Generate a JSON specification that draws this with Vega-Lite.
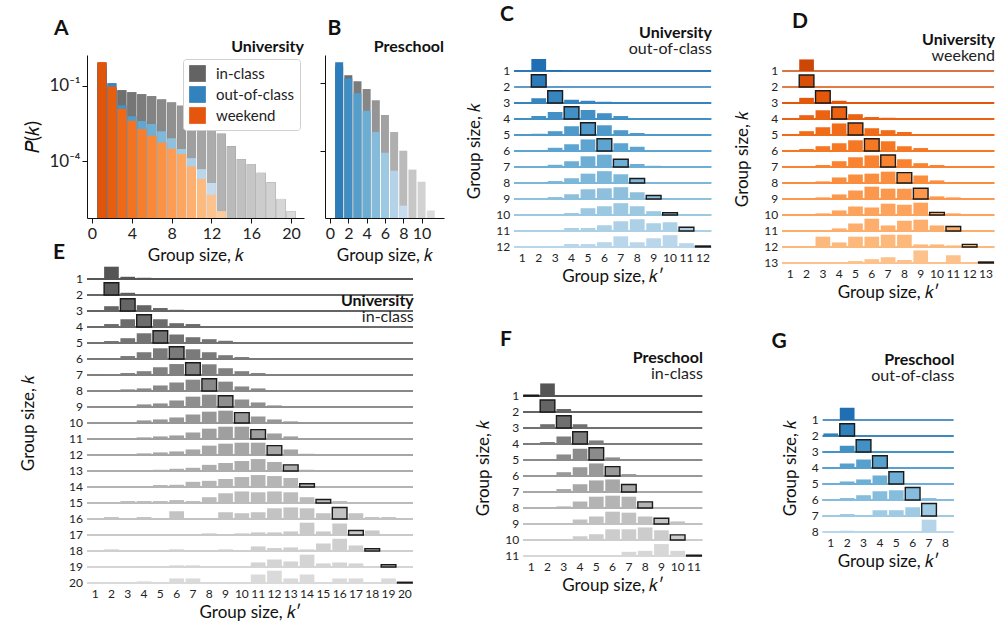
{
"$schema": "https://vega.github.io/schema/vega-lite/v6.json",
"padding": {"left": 20, "top": 4, "right": 2, "bottom": 2},
"config": {"font": "Lato", "view": {"stroke": null}, "axis": {"grid": false, "labelColor": "#222", "titleColor": "#111", "domainColor": "#111", "tickColor": "#111", "titleFontWeight": "normal"}, "title": {"color": "#111", "subtitleColor": "#222"}, "header": {"labelColor": "#222", "titleColor": "#111"}},
"datasets": {
"dsA": [
{"series":"in-class","k":1,"p":0.5},{"series":"in-class","k":2,"p":0.08},{"series":"in-class","k":3,"p":0.068},{"series":"in-class","k":4,"p":0.056},{"series":"in-class","k":5,"p":0.047},{"series":"in-class","k":6,"p":0.039},{"series":"in-class","k":7,"p":0.029},{"series":"in-class","k":8,"p":0.022},{"series":"in-class","k":9,"p":0.0162},{"series":"in-class","k":10,"p":0.0091},{"series":"in-class","k":11,"p":0.005},{"series":"in-class","k":12,"p":0.0025},{"series":"in-class","k":13,"p":0.00126},{"series":"in-class","k":14,"p":0.0004},{"series":"in-class","k":15,"p":0.000123},{"series":"in-class","k":16,"p":0.000078},{"series":"in-class","k":17,"p":0.000035},{"series":"in-class","k":18,"p":0.0000148},{"series":"in-class","k":19,"p":0.0000032},{"series":"in-class","k":20,"p":0.00000105},
{"series":"out-of-class","k":1,"p":0.8},{"series":"out-of-class","k":2,"p":0.129},{"series":"out-of-class","k":3,"p":0.017},{"series":"out-of-class","k":4,"p":0.0063},{"series":"out-of-class","k":5,"p":0.004},{"series":"out-of-class","k":6,"p":0.0031},{"series":"out-of-class","k":7,"p":0.00158},{"series":"out-of-class","k":8,"p":0.00083},{"series":"out-of-class","k":9,"p":0.00031},{"series":"out-of-class","k":10,"p":0.000135},{"series":"out-of-class","k":11,"p":0.000049},{"series":"out-of-class","k":12,"p":0.0000138},
{"series":"weekend","k":1,"p":0.87},{"series":"weekend","k":2,"p":0.095},{"series":"weekend","k":3,"p":0.0123},{"series":"weekend","k":4,"p":0.0041},{"series":"weekend","k":5,"p":0.00195},{"series":"weekend","k":6,"p":0.00105},{"series":"weekend","k":7,"p":0.00056},{"series":"weekend","k":8,"p":0.00032},{"series":"weekend","k":9,"p":0.000195},{"series":"weekend","k":10,"p":0.000063},{"series":"weekend","k":11,"p":0.00002},{"series":"weekend","k":12,"p":0.0000047},{"series":"weekend","k":13,"p":0.00000105}
],
"dsB": [
{"series":"in-class","k":1,"p":0.55},{"series":"in-class","k":2,"p":0.224},{"series":"in-class","k":3,"p":0.123},{"series":"in-class","k":4,"p":0.055},{"series":"in-class","k":5,"p":0.0178},{"series":"in-class","k":6,"p":0.004},{"series":"in-class","k":7,"p":0.00072},{"series":"in-class","k":8,"p":0.000107},{"series":"in-class","k":9,"p":0.0000158},{"series":"in-class","k":10,"p":0.0000046},{"series":"in-class","k":11,"p":0.00000025},
{"series":"out-of-class","k":1,"p":0.83},{"series":"out-of-class","k":2,"p":0.166},{"series":"out-of-class","k":3,"p":0.036},{"series":"out-of-class","k":4,"p":0.0062},{"series":"out-of-class","k":5,"p":0.00072},{"series":"out-of-class","k":6,"p":0.000087},{"series":"out-of-class","k":7,"p":0.0000141},{"series":"out-of-class","k":8,"p":0.00000041}
],
"dsC": [
{"k":1,"kp":2,"p":0.97},{"k":1,"kp":3,"p":0.08},
{"k":2,"kp":2,"p":1.0},
{"k":3,"kp":2,"p":0.39},{"k":3,"kp":3,"p":1.0},{"k":3,"kp":4,"p":0.26},{"k":3,"kp":5,"p":0.18},{"k":3,"kp":6,"p":0.1},
{"k":4,"kp":2,"p":0.24},{"k":4,"kp":3,"p":0.57},{"k":4,"kp":4,"p":1.0},{"k":4,"kp":5,"p":0.73},{"k":4,"kp":6,"p":0.47},{"k":4,"kp":7,"p":0.24},{"k":4,"kp":8,"p":0.08},
{"k":5,"kp":2,"p":0.1},{"k":5,"kp":3,"p":0.31},{"k":5,"kp":4,"p":0.71},{"k":5,"kp":5,"p":1.0},{"k":5,"kp":6,"p":0.79},{"k":5,"kp":7,"p":0.39},{"k":5,"kp":8,"p":0.16},
{"k":6,"kp":2,"p":0.08},{"k":6,"kp":3,"p":0.26},{"k":6,"kp":4,"p":0.55},{"k":6,"kp":5,"p":0.94},{"k":6,"kp":6,"p":1.0},{"k":6,"kp":7,"p":0.63},{"k":6,"kp":8,"p":0.34},{"k":6,"kp":9,"p":0.08},
{"k":7,"kp":3,"p":0.18},{"k":7,"kp":4,"p":0.47},{"k":7,"kp":5,"p":0.87},{"k":7,"kp":6,"p":1.0},{"k":7,"kp":7,"p":0.63},{"k":7,"kp":8,"p":0.24},{"k":7,"kp":9,"p":0.1},
{"k":8,"kp":3,"p":0.16},{"k":8,"kp":4,"p":0.39},{"k":8,"kp":5,"p":0.76},{"k":8,"kp":6,"p":0.96},{"k":8,"kp":7,"p":0.71},{"k":8,"kp":8,"p":0.37},{"k":8,"kp":9,"p":0.08},
{"k":9,"kp":3,"p":0.16},{"k":9,"kp":4,"p":0.39},{"k":9,"kp":5,"p":0.79},{"k":9,"kp":6,"p":0.87},{"k":9,"kp":7,"p":0.96},{"k":9,"kp":8,"p":0.55},{"k":9,"kp":9,"p":0.29},{"k":9,"kp":10,"p":0.08},
{"k":10,"kp":4,"p":0.16},{"k":10,"kp":5,"p":0.55},{"k":10,"kp":6,"p":0.71},{"k":10,"kp":7,"p":0.96},{"k":10,"kp":8,"p":0.71},{"k":10,"kp":9,"p":0.31},{"k":10,"kp":10,"p":0.18},{"k":10,"kp":11,"p":0.08},
{"k":11,"kp":4,"p":0.24},{"k":11,"kp":5,"p":0.24},{"k":11,"kp":6,"p":0.47},{"k":11,"kp":7,"p":0.79},{"k":11,"kp":8,"p":0.96},{"k":11,"kp":9,"p":0.63},{"k":11,"kp":10,"p":0.71},{"k":11,"kp":11,"p":0.31},{"k":11,"kp":12,"p":0.08},
{"k":12,"kp":2,"p":0.08},{"k":12,"kp":4,"p":0.24},{"k":12,"kp":5,"p":0.24},{"k":12,"kp":6,"p":0.39},{"k":12,"kp":7,"p":0.87},{"k":12,"kp":8,"p":0.39},{"k":12,"kp":9,"p":0.71},{"k":12,"kp":10,"p":0.96},{"k":12,"kp":11,"p":0.31},{"k":12,"kp":12,"p":0.08}
],
"dsD": [
{"k":1,"kp":2,"p":0.94},
{"k":2,"kp":2,"p":0.97},
{"k":3,"kp":2,"p":0.42},{"k":3,"kp":3,"p":1.0},{"k":3,"kp":4,"p":0.18},{"k":3,"kp":5,"p":0.08},
{"k":4,"kp":2,"p":0.31},{"k":4,"kp":3,"p":0.71},{"k":4,"kp":4,"p":0.97},{"k":4,"kp":5,"p":0.39},{"k":4,"kp":6,"p":0.16},{"k":4,"kp":7,"p":0.1},
{"k":5,"kp":2,"p":0.31},{"k":5,"kp":3,"p":0.63},{"k":5,"kp":4,"p":0.94},{"k":5,"kp":5,"p":0.97},{"k":5,"kp":6,"p":0.55},{"k":5,"kp":7,"p":0.39},{"k":5,"kp":8,"p":0.24},{"k":5,"kp":9,"p":0.08},
{"k":6,"kp":2,"p":0.16},{"k":6,"kp":3,"p":0.39},{"k":6,"kp":4,"p":0.63},{"k":6,"kp":5,"p":0.87},{"k":6,"kp":6,"p":1.0},{"k":6,"kp":7,"p":0.79},{"k":6,"kp":8,"p":0.39},{"k":6,"kp":9,"p":0.24},{"k":6,"kp":10,"p":0.08},
{"k":7,"kp":2,"p":0.08},{"k":7,"kp":3,"p":0.16},{"k":7,"kp":4,"p":0.47},{"k":7,"kp":5,"p":0.79},{"k":7,"kp":6,"p":0.94},{"k":7,"kp":7,"p":0.97},{"k":7,"kp":8,"p":0.63},{"k":7,"kp":9,"p":0.31},{"k":7,"kp":10,"p":0.16},
{"k":8,"kp":2,"p":0.06},{"k":8,"kp":3,"p":0.13},{"k":8,"kp":4,"p":0.45},{"k":8,"kp":5,"p":0.69},{"k":8,"kp":6,"p":0.76},{"k":8,"kp":7,"p":0.92},{"k":8,"kp":8,"p":0.84},{"k":8,"kp":9,"p":0.61},{"k":8,"kp":10,"p":0.21},{"k":8,"kp":11,"p":0.08},
{"k":9,"kp":2,"p":0.08},{"k":9,"kp":3,"p":0.13},{"k":9,"kp":4,"p":0.37},{"k":9,"kp":5,"p":0.69},{"k":9,"kp":6,"p":1.0},{"k":9,"kp":7,"p":0.84},{"k":9,"kp":8,"p":0.84},{"k":9,"kp":9,"p":0.87},{"k":9,"kp":10,"p":0.21},{"k":9,"kp":11,"p":0.13},
{"k":10,"kp":3,"p":0.13},{"k":10,"kp":4,"p":0.37},{"k":10,"kp":5,"p":0.69},{"k":10,"kp":6,"p":0.61},{"k":10,"kp":7,"p":0.92},{"k":10,"kp":8,"p":0.84},{"k":10,"kp":9,"p":1.0},{"k":10,"kp":10,"p":0.21},{"k":10,"kp":11,"p":0.13},
{"k":11,"kp":3,"p":0.06},{"k":11,"kp":4,"p":0.21},{"k":11,"kp":5,"p":0.61},{"k":11,"kp":6,"p":1.0},{"k":11,"kp":7,"p":0.45},{"k":11,"kp":8,"p":0.84},{"k":11,"kp":9,"p":0.92},{"k":11,"kp":10,"p":0.45},{"k":11,"kp":11,"p":0.37},{"k":11,"kp":13,"p":0.08},
{"k":12,"kp":3,"p":0.84},{"k":12,"kp":4,"p":0.37},{"k":12,"kp":5,"p":0.84},{"k":12,"kp":6,"p":0.84},{"k":12,"kp":7,"p":1.0},{"k":12,"kp":8,"p":1.0},{"k":12,"kp":9,"p":0.21},{"k":12,"kp":10,"p":0.21},{"k":12,"kp":11,"p":0.13},{"k":12,"kp":12,"p":0.21},
{"k":13,"kp":3,"p":0.08},{"k":13,"kp":5,"p":0.16},{"k":13,"kp":6,"p":0.31},{"k":13,"kp":7,"p":0.47},{"k":13,"kp":8,"p":0.24},{"k":13,"kp":9,"p":1.02},{"k":13,"kp":10,"p":0.08},{"k":13,"kp":11,"p":0.63},{"k":13,"kp":13,"p":0.08}
],
"dsE": [
{"k":1,"kp":2,"p":1.0},{"k":1,"kp":3,"p":0.18},{"k":1,"kp":4,"p":0.1},
{"k":2,"kp":2,"p":1.0},{"k":2,"kp":3,"p":0.18},
{"k":3,"kp":2,"p":0.39},{"k":3,"kp":3,"p":1.0},{"k":3,"kp":4,"p":0.47},{"k":3,"kp":5,"p":0.24},{"k":3,"kp":6,"p":0.1},{"k":3,"kp":7,"p":0.08},
{"k":4,"kp":2,"p":0.24},{"k":4,"kp":3,"p":0.63},{"k":4,"kp":4,"p":1.0},{"k":4,"kp":5,"p":0.63},{"k":4,"kp":6,"p":0.31},{"k":4,"kp":7,"p":0.24},{"k":4,"kp":8,"p":0.08},{"k":4,"kp":9,"p":0.08},
{"k":5,"kp":2,"p":0.16},{"k":5,"kp":3,"p":0.39},{"k":5,"kp":4,"p":0.79},{"k":5,"kp":5,"p":1.0},{"k":5,"kp":6,"p":0.69},{"k":5,"kp":7,"p":0.47},{"k":5,"kp":8,"p":0.31},{"k":5,"kp":9,"p":0.18},{"k":5,"kp":10,"p":0.08},
{"k":6,"kp":2,"p":0.08},{"k":6,"kp":3,"p":0.24},{"k":6,"kp":4,"p":0.55},{"k":6,"kp":5,"p":0.87},{"k":6,"kp":6,"p":1.0},{"k":6,"kp":7,"p":0.79},{"k":6,"kp":8,"p":0.55},{"k":6,"kp":9,"p":0.31},{"k":6,"kp":10,"p":0.16},{"k":6,"kp":11,"p":0.08},
{"k":7,"kp":2,"p":0.06},{"k":7,"kp":3,"p":0.16},{"k":7,"kp":4,"p":0.31},{"k":7,"kp":5,"p":0.63},{"k":7,"kp":6,"p":0.89},{"k":7,"kp":7,"p":1.0},{"k":7,"kp":8,"p":0.87},{"k":7,"kp":9,"p":0.55},{"k":7,"kp":10,"p":0.31},{"k":7,"kp":11,"p":0.16},{"k":7,"kp":12,"p":0.06},
{"k":8,"kp":2,"p":0.06},{"k":8,"kp":3,"p":0.13},{"k":8,"kp":4,"p":0.21},{"k":8,"kp":5,"p":0.45},{"k":8,"kp":6,"p":0.69},{"k":8,"kp":7,"p":0.92},{"k":8,"kp":8,"p":1.0},{"k":8,"kp":9,"p":0.76},{"k":8,"kp":10,"p":0.37},{"k":8,"kp":11,"p":0.21},{"k":8,"kp":12,"p":0.06},{"k":8,"kp":13,"p":0.06},{"k":8,"kp":14,"p":0.06},
{"k":9,"kp":4,"p":0.21},{"k":9,"kp":5,"p":0.29},{"k":9,"kp":6,"p":0.53},{"k":9,"kp":7,"p":0.84},{"k":9,"kp":8,"p":1.0},{"k":9,"kp":9,"p":0.92},{"k":9,"kp":10,"p":0.61},{"k":9,"kp":11,"p":0.37},{"k":9,"kp":12,"p":0.13},
{"k":10,"kp":4,"p":0.21},{"k":10,"kp":5,"p":0.29},{"k":10,"kp":6,"p":0.45},{"k":10,"kp":7,"p":0.69},{"k":10,"kp":8,"p":0.92},{"k":10,"kp":9,"p":1.0},{"k":10,"kp":10,"p":0.84},{"k":10,"kp":11,"p":0.53},{"k":10,"kp":12,"p":0.29},{"k":10,"kp":13,"p":0.13},
{"k":11,"kp":4,"p":0.13},{"k":11,"kp":5,"p":0.21},{"k":11,"kp":6,"p":0.29},{"k":11,"kp":7,"p":0.53},{"k":11,"kp":8,"p":0.84},{"k":11,"kp":9,"p":1.0},{"k":11,"kp":10,"p":1.0},{"k":11,"kp":11,"p":0.76},{"k":11,"kp":12,"p":0.45},{"k":11,"kp":13,"p":0.21},
{"k":12,"kp":4,"p":0.13},{"k":12,"kp":5,"p":0.21},{"k":12,"kp":6,"p":0.29},{"k":12,"kp":7,"p":0.45},{"k":12,"kp":8,"p":0.76},{"k":12,"kp":9,"p":0.92},{"k":12,"kp":10,"p":1.0},{"k":12,"kp":11,"p":1.0},{"k":12,"kp":12,"p":0.76},{"k":12,"kp":13,"p":0.45},{"k":12,"kp":14,"p":0.1},
{"k":13,"kp":5,"p":0.1},{"k":13,"kp":6,"p":0.18},{"k":13,"kp":7,"p":0.26},{"k":13,"kp":8,"p":0.5},{"k":13,"kp":9,"p":0.65},{"k":13,"kp":10,"p":0.81},{"k":13,"kp":11,"p":0.97},{"k":13,"kp":12,"p":0.73},{"k":13,"kp":13,"p":0.5},{"k":13,"kp":14,"p":0.1},
{"k":14,"kp":4,"p":0.08},{"k":14,"kp":5,"p":0.16},{"k":14,"kp":6,"p":0.18},{"k":14,"kp":7,"p":0.42},{"k":14,"kp":8,"p":0.5},{"k":14,"kp":9,"p":0.65},{"k":14,"kp":10,"p":0.81},{"k":14,"kp":11,"p":0.97},{"k":14,"kp":12,"p":0.89},{"k":14,"kp":13,"p":0.73},{"k":14,"kp":14,"p":0.26},
{"k":15,"kp":2,"p":0.08},{"k":15,"kp":3,"p":0.16},{"k":15,"kp":4,"p":0.16},{"k":15,"kp":5,"p":0.16},{"k":15,"kp":6,"p":0.24},{"k":15,"kp":7,"p":0.16},{"k":15,"kp":8,"p":0.47},{"k":15,"kp":9,"p":0.79},{"k":15,"kp":10,"p":0.94},{"k":15,"kp":11,"p":0.87},{"k":15,"kp":12,"p":0.94},{"k":15,"kp":13,"p":0.87},{"k":15,"kp":14,"p":0.47},{"k":15,"kp":15,"p":0.29},{"k":15,"kp":16,"p":0.16},{"k":15,"kp":17,"p":0.08},
{"k":16,"kp":2,"p":0.16},{"k":16,"kp":3,"p":0.08},{"k":16,"kp":4,"p":0.16},{"k":16,"kp":5,"p":0.08},{"k":16,"kp":6,"p":0.63},{"k":16,"kp":7,"p":0.08},{"k":16,"kp":8,"p":0.08},{"k":16,"kp":9,"p":0.55},{"k":16,"kp":10,"p":0.47},{"k":16,"kp":11,"p":0.55},{"k":16,"kp":12,"p":0.87},{"k":16,"kp":13,"p":0.94},{"k":16,"kp":14,"p":0.87},{"k":16,"kp":15,"p":0.47},{"k":16,"kp":16,"p":0.94},{"k":16,"kp":17,"p":0.47},{"k":16,"kp":18,"p":0.16},{"k":16,"kp":19,"p":0.16},{"k":16,"kp":20,"p":0.08},
{"k":17,"kp":1,"p":0.06},{"k":17,"kp":2,"p":0.06},{"k":17,"kp":3,"p":0.06},{"k":17,"kp":4,"p":0.06},{"k":17,"kp":5,"p":0.06},{"k":17,"kp":8,"p":0.13},{"k":17,"kp":9,"p":0.08},{"k":17,"kp":10,"p":0.13},{"k":17,"kp":11,"p":0.21},{"k":17,"kp":12,"p":0.21},{"k":17,"kp":13,"p":0.29},{"k":17,"kp":14,"p":1.0},{"k":17,"kp":15,"p":0.29},{"k":17,"kp":16,"p":0.94},{"k":17,"kp":17,"p":0.37},{"k":17,"kp":18,"p":0.37},
{"k":18,"kp":2,"p":0.13},{"k":18,"kp":3,"p":0.08},{"k":18,"kp":4,"p":0.08},{"k":18,"kp":6,"p":0.13},{"k":18,"kp":7,"p":0.08},{"k":18,"kp":8,"p":0.08},{"k":18,"kp":9,"p":0.13},{"k":18,"kp":11,"p":0.37},{"k":18,"kp":12,"p":0.24},{"k":18,"kp":13,"p":0.29},{"k":18,"kp":14,"p":0.13},{"k":18,"kp":15,"p":0.61},{"k":18,"kp":16,"p":1.0},{"k":18,"kp":17,"p":0.45},{"k":18,"kp":18,"p":0.18},
{"k":19,"kp":4,"p":0.06},{"k":19,"kp":6,"p":0.13},{"k":19,"kp":7,"p":0.13},{"k":19,"kp":11,"p":0.37},{"k":19,"kp":12,"p":0.61},{"k":19,"kp":13,"p":0.45},{"k":19,"kp":14,"p":1.0},{"k":19,"kp":15,"p":0.29},{"k":19,"kp":16,"p":0.37},{"k":19,"kp":17,"p":0.29},{"k":19,"kp":19,"p":0.18},
{"k":20,"kp":4,"p":0.13},{"k":20,"kp":6,"p":0.37},{"k":20,"kp":7,"p":0.37},{"k":20,"kp":11,"p":0.69},{"k":20,"kp":12,"p":1.0},{"k":20,"kp":13,"p":0.37},{"k":20,"kp":14,"p":0.69},{"k":20,"kp":16,"p":0.37},{"k":20,"kp":17,"p":0.37},{"k":20,"kp":19,"p":0.37},{"k":20,"kp":20,"p":0.06}
],
"dsF": [
{"k":1,"kp":1,"p":0.06},{"k":1,"kp":2,"p":1.02},{"k":1,"kp":3,"p":0.06},{"k":1,"kp":4,"p":0.04},{"k":1,"kp":5,"p":0.04},{"k":1,"kp":6,"p":0.04},
{"k":2,"kp":1,"p":0.06},{"k":2,"kp":2,"p":0.97},{"k":2,"kp":3,"p":0.24},{"k":2,"kp":4,"p":0.04},
{"k":3,"kp":2,"p":0.31},{"k":3,"kp":3,"p":1.0},{"k":3,"kp":4,"p":0.31},{"k":3,"kp":5,"p":0.06},
{"k":4,"kp":2,"p":0.16},{"k":4,"kp":3,"p":0.61},{"k":4,"kp":4,"p":1.0},{"k":4,"kp":5,"p":0.29},{"k":4,"kp":6,"p":0.06},
{"k":5,"kp":2,"p":0.06},{"k":5,"kp":3,"p":0.45},{"k":5,"kp":4,"p":0.92},{"k":5,"kp":5,"p":1.0},{"k":5,"kp":6,"p":0.21},{"k":5,"kp":7,"p":0.08},
{"k":6,"kp":2,"p":0.06},{"k":6,"kp":3,"p":0.31},{"k":6,"kp":4,"p":0.71},{"k":6,"kp":5,"p":1.02},{"k":6,"kp":6,"p":0.76},{"k":6,"kp":7,"p":0.16},
{"k":7,"kp":2,"p":0.06},{"k":7,"kp":3,"p":0.24},{"k":7,"kp":4,"p":0.63},{"k":7,"kp":5,"p":0.94},{"k":7,"kp":6,"p":1.02},{"k":7,"kp":7,"p":0.61},{"k":7,"kp":8,"p":0.08},
{"k":8,"kp":2,"p":0.08},{"k":8,"kp":3,"p":0.13},{"k":8,"kp":4,"p":0.53},{"k":8,"kp":5,"p":0.92},{"k":8,"kp":6,"p":1.0},{"k":8,"kp":7,"p":0.92},{"k":8,"kp":8,"p":0.5},{"k":8,"kp":9,"p":0.06},
{"k":9,"kp":2,"p":0.06},{"k":9,"kp":3,"p":0.06},{"k":9,"kp":4,"p":0.37},{"k":9,"kp":5,"p":0.61},{"k":9,"kp":6,"p":1.0},{"k":9,"kp":7,"p":0.92},{"k":9,"kp":8,"p":0.61},{"k":9,"kp":9,"p":0.47},{"k":9,"kp":10,"p":0.21},
{"k":10,"kp":2,"p":0.08},{"k":10,"kp":3,"p":0.08},{"k":10,"kp":4,"p":0.31},{"k":10,"kp":5,"p":0.47},{"k":10,"kp":6,"p":0.87},{"k":10,"kp":7,"p":0.87},{"k":10,"kp":8,"p":1.02},{"k":10,"kp":9,"p":0.79},{"k":10,"kp":10,"p":0.42},{"k":10,"kp":11,"p":0.06},
{"k":11,"kp":6,"p":0.06},{"k":11,"kp":7,"p":0.34},{"k":11,"kp":8,"p":0.42},{"k":11,"kp":9,"p":0.97},{"k":11,"kp":10,"p":0.42},{"k":11,"kp":11,"p":0.06}
],
"dsG": [
{"k":1,"kp":2,"p":1.0},
{"k":2,"kp":1,"p":0.21},{"k":2,"kp":2,"p":1.0},
{"k":3,"kp":2,"p":0.5},{"k":3,"kp":3,"p":1.0},{"k":3,"kp":4,"p":0.06},
{"k":4,"kp":2,"p":0.37},{"k":4,"kp":3,"p":0.69},{"k":4,"kp":4,"p":1.0},{"k":4,"kp":5,"p":0.06},
{"k":5,"kp":2,"p":0.21},{"k":5,"kp":3,"p":0.37},{"k":5,"kp":4,"p":0.69},{"k":5,"kp":5,"p":1.0},{"k":5,"kp":6,"p":0.06},
{"k":6,"kp":2,"p":0.16},{"k":6,"kp":3,"p":0.39},{"k":6,"kp":4,"p":0.71},{"k":6,"kp":5,"p":0.79},{"k":6,"kp":6,"p":1.02},{"k":6,"kp":7,"p":0.16},
{"k":7,"kp":2,"p":0.16},{"k":7,"kp":4,"p":0.47},{"k":7,"kp":5,"p":0.47},{"k":7,"kp":6,"p":0.71},{"k":7,"kp":7,"p":1.02},
{"k":8,"kp":2,"p":0.1},{"k":8,"kp":7,"p":1.0}
]
},
"spacing": 22,
"resolve": {"scale": {"color": "independent"}},
"hconcat": [
{"spacing": -22, "resolve": {"scale": {"color": "independent"}}, "vconcat": [
 {"spacing": 15, "resolve": {"scale": {"color": "independent"}}, "hconcat": [
  {"title": {"text": "A", "anchor": "start", "frame": "bounds", "fontSize": 21, "fontWeight": "bold", "dx": 30, "offset": 0},
   "vconcat": [{
    "title": {"text": "University", "anchor": "end", "fontSize": 16, "fontWeight": "bold", "offset": 0},
    "data": {"name": "dsA"},
    "width": 217, "height": 163,
    "encoding": {
      "x": {"field": "k", "type": "quantitative", "scale": {"domain": [0, 20.8], "nice": false, "zero": false}, "axis": {"values": [0,4,8,12,16,20], "title": "Group size, 𝑘", "labelFontSize": 16, "titleFontSize": 17, "tickSize": 5, "labelPadding": 2, "titlePadding": 6, "labelFlush": false}},
      "y": {"field": "p", "type": "quantitative", "stack": null, "scale": {"type": "log", "domain": [0.00000056, 1.7], "nice": false}, "axis": {"values": [0.1, 0.0001], "labelExpr": "datum.value < 0.001 ? '10⁻⁴' : '10⁻¹'", "title": "𝑃(𝑘)", "labelFontSize": 17, "titleFontSize": 19, "tickSize": 5, "titlePadding": 6}}
    },
    "layer": [
     {"mark": {"type": "bar", "width": 9}, "encoding": {"color": {"field": "series", "type": "nominal", "scale": {"domain": ["in-class", "out-of-class", "weekend"], "range": ["#636363", "#3182bd", "#e6550d"]}, "legend": {"orient": "top-right", "offset": 4, "title": null, "symbolType": "square", "symbolSize": 280, "symbolStrokeWidth": 0, "symbolOpacity": 1, "labelFontSize": 15, "labelColor": "#222", "strokeColor": "#d0d0d0", "fillColor": "white", "padding": 6, "cornerRadius": 3, "rowPadding": 4, "labelOffset": 10}}}},
     {"mark": {"type": "bar", "width": 9}, "encoding": {"color": {"field": "k", "type": "quantitative", "scale": {"scheme": {"name": "greys", "extent": [0.05, 0.7]}, "reverse": true, "domain": [1, 20]}, "legend": null}, "opacity": {"condition": {"test": "datum.series == 'in-class'", "value": 1}, "value": 0}}},
     {"mark": {"type": "bar", "width": 9}, "encoding": {"color": {"field": "k", "type": "quantitative", "scale": {"scheme": {"name": "blues", "extent": [0.06, 0.72]}, "reverse": true, "domain": [1, 12]}, "legend": null}, "opacity": {"condition": {"test": "datum.series == 'out-of-class'", "value": 1}, "value": 0}}},
     {"mark": {"type": "bar", "width": 9}, "encoding": {"color": {"field": "k", "type": "quantitative", "scale": {"scheme": {"name": "oranges", "extent": [0.08, 0.72]}, "reverse": true, "domain": [1, 13]}, "legend": null}, "opacity": {"condition": {"test": "datum.series == 'weekend'", "value": 1}, "value": 0}}}
    ],
    "resolve": {"scale": {"color": "independent"}}
   }]
  },
  {"title": {"text": "B", "anchor": "start", "frame": "bounds", "fontSize": 21, "fontWeight": "bold", "dx": 8, "offset": 0},
   "vconcat": [{
    "title": {"text": "Preschool", "anchor": "end", "fontSize": 16, "fontWeight": "bold", "offset": 0},
    "data": {"name": "dsB"},
    "width": 119, "height": 163,
    "encoding": {
      "x": {"field": "k", "type": "quantitative", "scale": {"domain": [0, 11.9], "nice": false, "zero": false}, "axis": {"values": [0,2,4,6,8,10], "title": "Group size, 𝑘", "labelFontSize": 16, "titleFontSize": 17, "tickSize": 5, "labelPadding": 2, "titlePadding": 6, "labelFlush": false}},
      "y": {"field": "p", "type": "quantitative", "stack": null, "scale": {"type": "log", "domain": [0.000000117, 1.74], "nice": false}, "axis": {"values": [0.1, 0.0001], "labels": false, "title": null, "tickSize": 5}}
    },
    "layer": [
     {"mark": {"type": "bar", "width": 8}, "encoding": {"color": {"field": "k", "type": "quantitative", "scale": {"scheme": {"name": "greys", "extent": [0.05, 0.7]}, "reverse": true, "domain": [1, 11]}, "legend": null}, "opacity": {"condition": {"test": "datum.series == 'in-class'", "value": 1}, "value": 0}}},
     {"mark": {"type": "bar", "width": 8}, "encoding": {"color": {"field": "k", "type": "quantitative", "scale": {"scheme": {"name": "blues", "extent": [0.05, 0.72]}, "reverse": true, "domain": [1, 8]}, "legend": null}, "opacity": {"condition": {"test": "datum.series == 'out-of-class'", "value": 1}, "value": 0}}}
    ],
    "resolve": {"scale": {"color": "independent"}}
   }]
  }
 ]},
 {"title": {"text": "E", "anchor": "start", "frame": "bounds", "fontSize": 21, "fontWeight": "bold", "dx": 33, "offset": 0},
  "vconcat": [{
   "title": {"text": "University", "subtitle": "in-class", "anchor": "end", "fontSize": 16, "fontWeight": "bold", "subtitleFontSize": 16, "subtitlePadding": 0, "offset": -62},
   "data": {"name": "dsE"},
   "spacing": {"row": 0},
   "bounds": "flush",
   "facet": {"row": {"field": "k", "type": "ordinal", "title": "Group size, 𝑘", "header": {"labelAngle": 0, "labelAlign": "left", "labelAnchor": "start", "labelBaseline": "middle", "labelFontSize": 12, "labelPadding": 4, "titleFontSize": 17, "titleFontWeight": "normal", "titlePadding": 21}}},
   "spec": {
    "width": 326, "height": 16,
    "layer": [
     {"mark": {"type": "rule", "strokeWidth": 1.6}, "encoding": {"y": {"datum": 0, "type": "quantitative", "axis": null}, "color": {"field": "k", "type": "quantitative", "scale": {"scheme": {"name": "greys", "extent": [0.06, 0.76]}, "reverse": true, "domain": [1, 20]}, "legend": null}}},
     {"mark": {"type": "bar"}, "encoding": {
       "x": {"field": "kp", "type": "ordinal", "scale": {"domain": [1,2,3,4,5,6,7,8,9,10,11,12,13,14,15,16,17,18,19,20], "paddingInner": 0.1, "paddingOuter": 0.05}, "axis": {"title": "Group size, 𝑘′", "labelAngle": 0, "ticks": false, "domain": false, "labelFontSize": 12, "labelPadding": 5, "titleFontSize": 17, "titlePadding": 5}},
       "y": {"field": "p", "type": "quantitative", "scale": {"domain": [0, 1.26]}, "axis": null},
       "color": {"field": "k", "type": "quantitative", "legend": null},
       "stroke": {"condition": {"test": "datum.k == datum.kp", "value": "#1a1a1a"}, "value": null},
       "strokeWidth": {"condition": {"test": "datum.k == datum.kp", "value": 1.4}, "value": 0}}}
    ]
   }
  }]
 }
]},
{"spacing": 45, "center": true, "resolve": {"scale": {"color": "independent"}}, "vconcat": [
 {"title": {"text": "C", "anchor": "start", "frame": "bounds", "fontSize": 21, "fontWeight": "bold", "dx": 34, "offset": 0},
  "vconcat": [{
   "title": {"text": "University", "subtitle": "out-of-class", "anchor": "end", "fontSize": 16, "fontWeight": "bold", "subtitleFontSize": 16, "subtitlePadding": 0, "offset": -2},
   "data": {"name": "dsC"},
   "spacing": {"row": 0},
   "bounds": "flush",
   "facet": {"row": {"field": "k", "type": "ordinal", "title": "Group size, 𝑘", "header": {"labelAngle": 0, "labelAlign": "left", "labelAnchor": "start", "labelBaseline": "middle", "labelFontSize": 12, "labelPadding": 4, "titleFontSize": 17, "titleFontWeight": "normal", "titlePadding": 2}}},
   "spec": {
    "width": 197, "height": 16,
    "layer": [
     {"mark": {"type": "rule", "strokeWidth": 1.6}, "encoding": {"y": {"datum": 0, "type": "quantitative", "axis": null}, "color": {"field": "k", "type": "quantitative", "scale": {"scheme": {"name": "blues", "extent": [0.12, 0.8]}, "reverse": true, "domain": [1, 12]}, "legend": null}}},
     {"mark": {"type": "bar"}, "encoding": {
       "x": {"field": "kp", "type": "ordinal", "scale": {"domain": [1,2,3,4,5,6,7,8,9,10,11,12], "paddingInner": 0.1, "paddingOuter": 0.05}, "axis": {"title": "Group size, 𝑘′", "labelAngle": 0, "ticks": false, "domain": false, "labelFontSize": 12, "labelPadding": 5, "titleFontSize": 17, "titlePadding": 5}},
       "y": {"field": "p", "type": "quantitative", "scale": {"domain": [0, 1.26]}, "axis": null},
       "color": {"field": "k", "type": "quantitative", "legend": null},
       "stroke": {"condition": {"test": "datum.k == datum.kp", "value": "#1a1a1a"}, "value": null},
       "strokeWidth": {"condition": {"test": "datum.k == datum.kp", "value": 1.4}, "value": 0}}}
    ]
   }
  }]
 },
 {"title": {"text": "F", "anchor": "start", "frame": "bounds", "fontSize": 21, "fontWeight": "bold", "dx": 25, "offset": 0},
  "vconcat": [{
   "title": {"text": "Preschool", "subtitle": "in-class", "anchor": "end", "fontSize": 16, "fontWeight": "bold", "subtitleFontSize": 16, "subtitlePadding": 0, "offset": -2},
   "data": {"name": "dsF"},
   "spacing": {"row": 0},
   "bounds": "flush",
   "facet": {"row": {"field": "k", "type": "ordinal", "title": "Group size, 𝑘", "header": {"labelAngle": 0, "labelAlign": "left", "labelAnchor": "start", "labelBaseline": "middle", "labelFontSize": 12, "labelPadding": 4, "titleFontSize": 17, "titleFontWeight": "normal", "titlePadding": 2}}},
   "spec": {
    "width": 179, "height": 16,
    "layer": [
     {"mark": {"type": "rule", "strokeWidth": 1.6}, "encoding": {"y": {"datum": 0, "type": "quantitative", "axis": null}, "color": {"field": "k", "type": "quantitative", "scale": {"scheme": {"name": "greys", "extent": [0.08, 0.76]}, "reverse": true, "domain": [1, 11]}, "legend": null}}},
     {"mark": {"type": "bar"}, "encoding": {
       "x": {"field": "kp", "type": "ordinal", "scale": {"domain": [1,2,3,4,5,6,7,8,9,10,11], "paddingInner": 0.1, "paddingOuter": 0.05}, "axis": {"title": "Group size, 𝑘′", "labelAngle": 0, "ticks": false, "domain": false, "labelFontSize": 12, "labelPadding": 5, "titleFontSize": 17, "titlePadding": 5}},
       "y": {"field": "p", "type": "quantitative", "scale": {"domain": [0, 1.26]}, "axis": null},
       "color": {"field": "k", "type": "quantitative", "legend": null},
       "stroke": {"condition": {"test": "datum.k == datum.kp", "value": "#1a1a1a"}, "value": null},
       "strokeWidth": {"condition": {"test": "datum.k == datum.kp", "value": 1.4}, "value": 0}}}
    ]
   }
  }]
 }
]},
{"spacing": 31, "center": true, "resolve": {"scale": {"color": "independent"}}, "vconcat": [
 {"title": {"text": "D", "anchor": "start", "frame": "bounds", "fontSize": 21, "fontWeight": "bold", "dx": 58, "offset": 0},
  "vconcat": [{
   "title": {"text": "University", "subtitle": "weekend", "anchor": "end", "fontSize": 16, "fontWeight": "bold", "subtitleFontSize": 16, "subtitlePadding": 0, "offset": -9},
   "data": {"name": "dsD"},
   "spacing": {"row": 0},
   "bounds": "flush",
   "facet": {"row": {"field": "k", "type": "ordinal", "title": "Group size, 𝑘", "header": {"labelAngle": 0, "labelAlign": "left", "labelAnchor": "start", "labelBaseline": "middle", "labelFontSize": 12, "labelPadding": 4, "titleFontSize": 17, "titleFontWeight": "normal", "titlePadding": 2}}},
   "spec": {
    "width": 212, "height": 16,
    "layer": [
     {"mark": {"type": "rule", "strokeWidth": 1.6}, "encoding": {"y": {"datum": 0, "type": "quantitative", "axis": null}, "color": {"field": "k", "type": "quantitative", "scale": {"scheme": {"name": "oranges", "extent": [0.14, 0.82]}, "reverse": true, "domain": [1, 13]}, "legend": null}}},
     {"mark": {"type": "bar"}, "encoding": {
       "x": {"field": "kp", "type": "ordinal", "scale": {"domain": [1,2,3,4,5,6,7,8,9,10,11,12,13], "paddingInner": 0.1, "paddingOuter": 0.05}, "axis": {"title": "Group size, 𝑘′", "labelAngle": 0, "ticks": false, "domain": false, "labelFontSize": 12, "labelPadding": 5, "titleFontSize": 17, "titlePadding": 5}},
       "y": {"field": "p", "type": "quantitative", "scale": {"domain": [0, 1.26]}, "axis": null},
       "color": {"field": "k", "type": "quantitative", "legend": null},
       "stroke": {"condition": {"test": "datum.k == datum.kp", "value": "#1a1a1a"}, "value": null},
       "strokeWidth": {"condition": {"test": "datum.k == datum.kp", "value": 1.4}, "value": 0}}}
    ]
   }
  }]
 },
 {"title": {"text": "G", "anchor": "start", "frame": "bounds", "fontSize": 21, "fontWeight": "bold", "dx": -10, "offset": 0},
  "vconcat": [{
   "title": {"text": "Preschool", "subtitle": "out-of-class", "anchor": "end", "fontSize": 16, "fontWeight": "bold", "subtitleFontSize": 16, "subtitlePadding": 0, "offset": 20},
   "data": {"name": "dsG"},
   "spacing": {"row": 0},
   "bounds": "flush",
   "facet": {"row": {"field": "k", "type": "ordinal", "title": "Group size, 𝑘", "header": {"labelAngle": 0, "labelAlign": "left", "labelAnchor": "start", "labelBaseline": "middle", "labelFontSize": 12, "labelPadding": 4, "titleFontSize": 17, "titleFontWeight": "normal", "titlePadding": 2}}},
   "spec": {
    "width": 131, "height": 16,
    "layer": [
     {"mark": {"type": "rule", "strokeWidth": 1.6}, "encoding": {"y": {"datum": 0, "type": "quantitative", "axis": null}, "color": {"field": "k", "type": "quantitative", "scale": {"scheme": {"name": "blues", "extent": [0.14, 0.8]}, "reverse": true, "domain": [1, 8]}, "legend": null}}},
     {"mark": {"type": "bar"}, "encoding": {
       "x": {"field": "kp", "type": "ordinal", "scale": {"domain": [1,2,3,4,5,6,7,8], "paddingInner": 0.1, "paddingOuter": 0.05}, "axis": {"title": "Group size, 𝑘′", "labelAngle": 0, "ticks": false, "domain": false, "labelFontSize": 12, "labelPadding": 5, "titleFontSize": 17, "titlePadding": 5}},
       "y": {"field": "p", "type": "quantitative", "scale": {"domain": [0, 1.26]}, "axis": null},
       "color": {"field": "k", "type": "quantitative", "legend": null},
       "stroke": {"condition": {"test": "datum.k == datum.kp", "value": "#1a1a1a"}, "value": null},
       "strokeWidth": {"condition": {"test": "datum.k == datum.kp", "value": 1.4}, "value": 0}}}
    ]
   }
  }]
 }
]}
]
}
